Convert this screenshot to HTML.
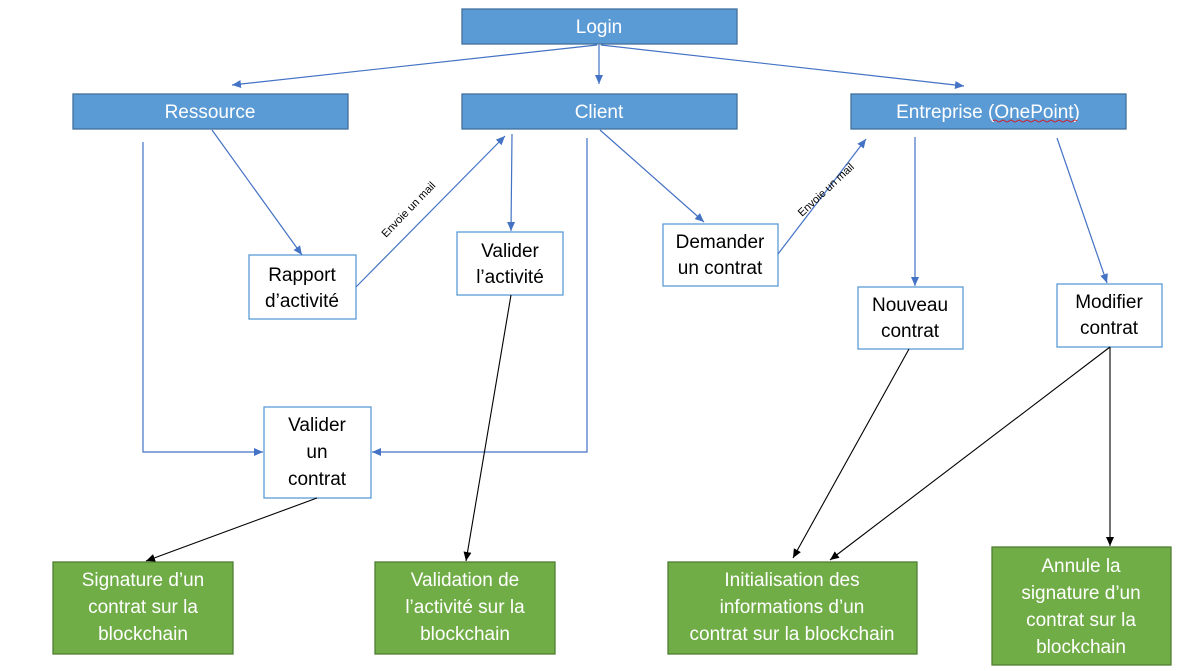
<!DOCTYPE html>
<html><head><meta charset="utf-8"><style>
html,body{margin:0;padding:0;background:#fff;}
svg{display:block;}
text{font-family:"Liberation Sans",sans-serif;}
</style></head><body>
<svg width="1191" height="671" viewBox="0 0 1191 671" xmlns="http://www.w3.org/2000/svg">
<defs>
<marker id="ab" markerWidth="10" markerHeight="10" refX="9" refY="5" orient="auto" markerUnits="userSpaceOnUse"><path d="M0,1 L9,5 L0,9 z" fill="#4472c4"/></marker>
<marker id="ak" markerWidth="10" markerHeight="10" refX="9" refY="5" orient="auto" markerUnits="userSpaceOnUse"><path d="M0,1 L9,5 L0,9 z" fill="#000"/></marker>
</defs>
<g fill="#5b9bd5" stroke="#41719c" stroke-width="1.3">
<rect x="462" y="9" width="275" height="35"/>
<rect x="73" y="94" width="275" height="35"/>
<rect x="462" y="94" width="275" height="35"/>
<rect x="851" y="94" width="275" height="35"/>
</g>
<g fill="#fff" font-size="19" text-anchor="middle">
<text x="599" y="33">Login</text>
<text x="210" y="118">Ressource</text>
<text x="599" y="118">Client</text>
<text x="988" y="118">Entreprise (OnePoint)</text>
</g>
<path d="M993,121 q2,-2 4,0 t4,0 t4,0 t4,0 t4,0 t4,0 t4,0 t4,0 t4,0 t4,0 t4,0 t4,0 t4,0 t4,0 t4,0 t4,0 t4,0 t4,0 t4,0 t4,0 t4,0" stroke="#e00" stroke-width="0.8" fill="none"/>
<g fill="#fff" stroke="#5b9bd5" stroke-width="1.3">
<rect x="249" y="255" width="107" height="64"/>
<rect x="457" y="232" width="106" height="63"/>
<rect x="663" y="224" width="115" height="62"/>
<rect x="858" y="287" width="105" height="62"/>
<rect x="1057" y="284" width="105" height="63"/>
<rect x="264" y="407" width="107" height="91"/>
</g>
<g fill="#000" font-size="19" text-anchor="middle">
<text x="302" y="281">Rapport</text><text x="302" y="307">d’activité</text>
<text x="510" y="257">Valider</text><text x="510" y="283">l’activité</text>
<text x="720" y="248">Demander</text><text x="720" y="274">un contrat</text>
<text x="910" y="311">Nouveau</text><text x="910" y="337">contrat</text>
<text x="1109" y="308">Modifier</text><text x="1109" y="334">contrat</text>
<text x="317" y="431">Valider</text><text x="317" y="458">un</text><text x="317" y="485">contrat</text>
</g>
<g fill="#70ad47" stroke="#507e32" stroke-width="1.3">
<rect x="53" y="562" width="180" height="92"/>
<rect x="375" y="562" width="180" height="92"/>
<rect x="668" y="562" width="249" height="92"/>
<rect x="992" y="547" width="179" height="118"/>
</g>
<g fill="#fff" font-size="19" text-anchor="middle">
<text x="143" y="586">Signature d’un</text><text x="143" y="613">contrat sur la</text><text x="143" y="640">blockchain</text>
<text x="465" y="586">Validation de</text><text x="465" y="613">l’activité sur la</text><text x="465" y="640">blockchain</text>
<text x="792" y="586">Initialisation des</text><text x="792" y="613">informations d’un</text><text x="792" y="640">contrat sur la blockchain</text>
<text x="1081" y="572">Annule la</text><text x="1081" y="599">signature d’un</text><text x="1081" y="626">contrat sur la</text><text x="1081" y="653">blockchain</text>
</g>
<g stroke="#4472c4" stroke-width="1.2" fill="none" marker-end="url(#ab)">
<line x1="597" y1="45" x2="232" y2="85"/>
<line x1="599" y1="45" x2="599" y2="84"/>
<line x1="601" y1="45" x2="964" y2="86"/>
<line x1="212" y1="130" x2="302" y2="255"/>
<line x1="356" y1="287" x2="505" y2="136"/>
<line x1="512" y1="134" x2="511" y2="231"/>
<polyline points="587,138 587,452 372,452"/>
<polyline points="143,142 143,452 263,452"/>
<line x1="600" y1="130" x2="704" y2="222"/>
<line x1="778" y1="254" x2="866" y2="139"/>
<line x1="915" y1="137" x2="915" y2="286"/>
<line x1="1057" y1="138" x2="1107" y2="283"/>
</g>
<g stroke="#000" stroke-width="1.1" fill="none" marker-end="url(#ak)">
<line x1="511" y1="295" x2="466" y2="561"/>
<line x1="317" y1="498" x2="146" y2="561"/>
<line x1="909" y1="349" x2="793" y2="558"/>
<line x1="1110" y1="347" x2="830" y2="560"/>
<line x1="1110" y1="347" x2="1110" y2="546"/>
</g>
<g fill="#000" font-size="11">
<text x="0" y="0" transform="translate(386,238) rotate(-46)">Envoie un mail</text>
<text x="0" y="0" transform="translate(802,217) rotate(-43)">Envoie un mail</text>
</g>
</svg>
</body></html>
